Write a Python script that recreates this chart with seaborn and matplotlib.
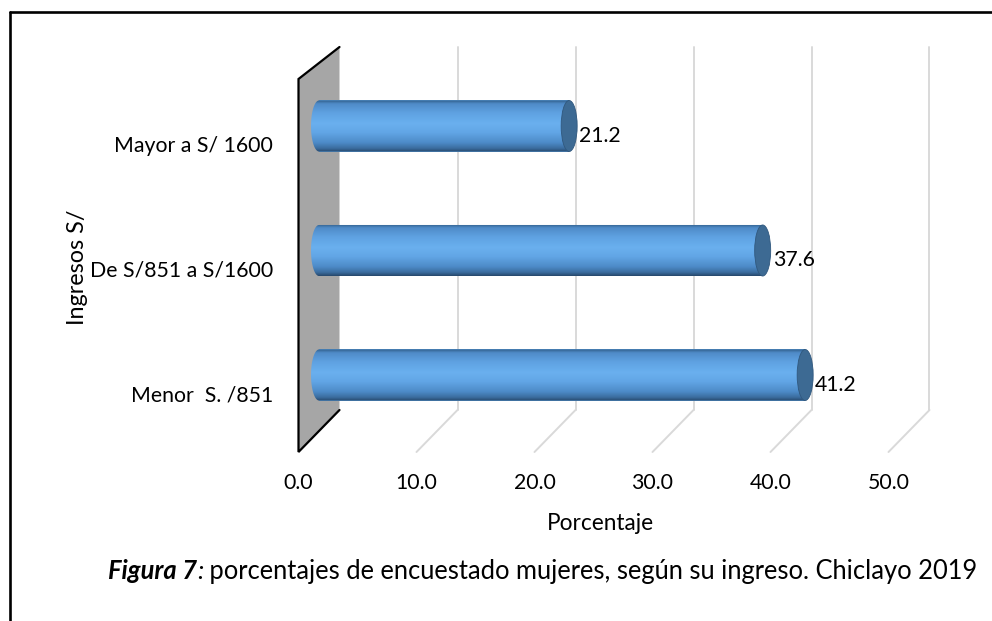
import numpy as np
import pandas as pd
import matplotlib
matplotlib.use("Agg")
import matplotlib.pyplot as plt
import seaborn as sns
from matplotlib.patches import Polygon, Ellipse
from matplotlib.lines import Line2D
from matplotlib.transforms import ScaledTranslation
from matplotlib.colors import LinearSegmentedColormap

# ---------------- data ----------------
categories = ["Mayor a S/ 1600", "De S/851 a S/1600", "Menor  S. /851"]
values = [21.2, 37.6, 41.2]
x_ticks = [0, 10, 20, 30, 40, 50]
x_title = "Porcentaje"
y_title = "Ingresos S/"
caption_bold = "Figura 7"
caption_colon = ":"
caption_rest = " porcentajes de encuestado mujeres, según su ingreso. Chiclayo 2019"

# ---------------- style ----------------
sns.set_theme(style="white", rc={"text.color": "black", "axes.labelcolor": "black",
                                 "xtick.color": "black", "ytick.color": "black"})
plt.rcParams["font.family"] = ["Lato", "DejaVu Sans"]

W, H, DPI = 992, 621, 100
fig = plt.figure(figsize=(W / DPI, H / DPI), dpi=DPI)
fig.patch.set_facecolor("white")

PX_PER_UNIT = 11.8      # pixels per percent (mid depth plane)
X0_PX = 319             # pixel of 0 % at mid depth
XMIN, XMAX = -3, 55
CAT0_PX, CAT_STEP = 126, 124.5
n = len(categories)
left_px = X0_PX + XMIN * PX_PER_UNIT
right_px = X0_PX + XMAX * PX_PER_UNIT
top_px = CAT0_PX - CAT_STEP / 2
bot_px = CAT0_PX + (n - 1) * CAT_STEP + CAT_STEP / 2
ax = fig.add_axes([left_px / W, 1 - bot_px / H, (right_px - left_px) / W, (bot_px - top_px) / H])

df = pd.DataFrame({"cat": categories, "val": values})
sns.barplot(data=df, x="val", y="cat", orient="h", color="#5b9bd5", width=0.41,
            saturation=1, ax=ax, zorder=2)
ax.set_xlim(XMIN, XMAX)
ax.set_ylim(n - 0.5, -0.5)
for s in ax.spines.values():
    s.set_visible(False)
ax.grid(False)

# ---------------- 3D-like walls / grid ----------------
def yd(py):
    return (py - CAT0_PX) / CAT_STEP

DX = 20.5 / PX_PER_UNIT
BACK_TOP, BACK_FLOOR = yd(47), yd(410)
FRONT_TOP, FRONT_FLOOR = yd(79), yd(452)

wall = Polygon([(x_ticks[0] - DX, FRONT_TOP), (x_ticks[0] + DX, BACK_TOP),
                (x_ticks[0] + DX, BACK_FLOOR), (x_ticks[0] - DX, FRONT_FLOOR)],
               closed=True, facecolor="#a6a6a6", edgecolor="none", zorder=0.5, clip_on=False)
ax.add_patch(wall)
ax.add_line(Line2D([x_ticks[0] + DX, x_ticks[0] - DX, x_ticks[0] - DX, x_ticks[0] + DX],
                   [BACK_TOP, FRONT_TOP, FRONT_FLOOR, BACK_FLOOR],
                   color="black", lw=1.6, zorder=0.8, clip_on=False, solid_joinstyle="miter"))
for v in x_ticks[1:]:
    ax.add_line(Line2D([v + DX, v + DX], [BACK_TOP, BACK_FLOOR], color="#d9d9d9",
                       lw=1.4, zorder=0.4, clip_on=False))
    ax.add_line(Line2D([v + DX, v - DX], [BACK_FLOOR, FRONT_FLOOR], color="#d9d9d9",
                       lw=1.4, zorder=0.4, clip_on=False))

# ---------------- cylinder bars ----------------
cmap = LinearSegmentedColormap.from_list(
    "cyl",
    [(0.0, "#2f5c88"), (0.07, "#4f8bc8"), (0.25, "#5fa2e2"), (0.45, "#6ab0ef"),
     (0.62, "#62a6e6"), (0.82, "#4d8bc8"), (0.93, "#3b6c9e"), (1.0, "#26476a")])
grad = cmap(np.linspace(0, 1, 256))[:, None, :]
ew = 16 / PX_PER_UNIT
for p, v in zip(ax.patches, values):
    x0, w = p.get_x(), p.get_width()
    y0, h = p.get_y(), p.get_height()
    yc = y0 + h / 2
    p.set_edgecolor("none")
    theta = np.linspace(np.pi / 2, 3 * np.pi / 2, 60)
    verts = list(zip(x0 + (ew / 2) * np.cos(theta), yc - (h / 2) * np.sin(theta)))
    verts += [(x0 + w, y0 + h), (x0 + w, y0)]
    clip = Polygon(verts, closed=True, transform=ax.transData)
    im = ax.imshow(grad, extent=(x0 - ew / 2, x0 + w, y0 + h, y0), origin="upper",
                   aspect="auto", interpolation="bilinear", zorder=3)
    im.set_clip_path(clip)
    ax.add_patch(Ellipse((x0 + w, yc), ew, h, facecolor="#3d6a93", edgecolor="#30587e",
                         lw=0.6, zorder=4))
    ax.annotate(f"{v:.1f}", xy=(x0 + w, yc), xytext=(10 * 72 / DPI, -10 * 72 / DPI),
                textcoords="offset points", ha="left", va="center", fontsize=15.3, zorder=5)

ax.set_xlim(XMIN, XMAX)
ax.set_ylim(n - 0.5, -0.5)

# ---------------- ticks / labels ----------------
ax.set_xticks(x_ticks)
ax.set_xticklabels([f"{t:.1f}" for t in x_ticks])
ax.tick_params(axis="x", length=0, pad=26, labelsize=15.3)
ax.tick_params(axis="y", length=0, pad=7.6, labelsize=15.3)
for lbl in ax.get_xticklabels():
    lbl.set_transform(lbl.get_transform() + ScaledTranslation(-20.5 / DPI, 0, fig.dpi_scale_trans))
for lbl in ax.get_yticklabels():
    lbl.set_transform(lbl.get_transform() + ScaledTranslation(0, -18 / DPI, fig.dpi_scale_trans))

ax.set_xlabel(x_title, fontsize=16.3)
ax.xaxis.label.set_va("center")
ax.xaxis.set_label_coords((600 - left_px) / (right_px - left_px), ((H - 523) - (H - bot_px)) / (bot_px - top_px))
ax.set_ylabel(y_title, fontsize=16.8)
ax.yaxis.label.set_va("center")
ax.yaxis.set_label_coords((77 - left_px) / (right_px - left_px), ((H - 267) - (H - bot_px)) / (bot_px - top_px))

# ---------------- frame ----------------
fig.add_artist(Line2D([9.5 / W, 9.5 / W], [0, 1 - 11.5 / H], transform=fig.transFigure,
                      color="black", lw=1.9))
fig.add_artist(Line2D([9.5 / W, 1], [1 - 11.5 / H, 1 - 11.5 / H], transform=fig.transFigure,
                      color="black", lw=1.9))

# ---------------- caption ----------------
renderer = fig.canvas.get_renderer()
cap_x0, cap_x1, cap_base = 108, 977, 579
t1 = fig.text(0, 1 - cap_base / H, caption_bold, fontweight="bold", fontstyle="italic",
              ha="left", va="baseline")
t2 = fig.text(0, 1 - cap_base / H, caption_colon, fontstyle="italic", ha="left", va="baseline")
t3 = fig.text(0, 1 - cap_base / H, caption_rest, ha="left", va="baseline")

def lay(size):
    x = cap_x0
    for t in (t1, t2, t3):
        t.set_fontsize(size)
        t.set_x(x / W)
        x = t.get_window_extent(renderer).x1
    return x - cap_x0

w0 = lay(18)
lay(18 * (cap_x1 - cap_x0) / w0)

fig.savefig("out.png", dpi=DPI, facecolor="white")
